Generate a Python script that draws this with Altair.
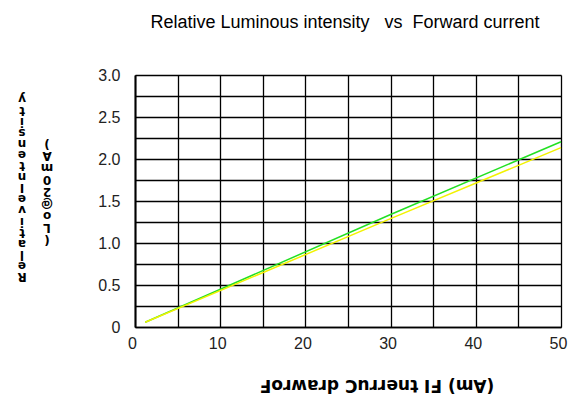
import altair as alt
import pandas as pd

# Data
current = [1.2, 30, 50]
green_vals = [0.056, 1.34, 2.206]
yellow_vals = [0.056, 1.29, 2.135]

x_grid = [0, 5, 10, 15, 20, 25, 30, 35, 40, 45, 50]
y_grid = [0, 0.25, 0.5, 0.75, 1.0, 1.25, 1.5, 1.75, 2.0, 2.25, 2.5, 2.75, 3.0]

NB = "\u00a0"
title_text = "Relative Luminous intensity" + NB * 3 + "vs" + NB * 2 + "Forward current"
x_title = "Forward Current IF (mA)"
y_title1 = "Relative Intensity"
y_title2 = "(Lo@20mA)"

df = pd.DataFrame({
    "current": current * 2,
    "value": green_vals + yellow_vals,
    "series": ["green"] * 3 + ["yellow"] * 3,
})

xs = alt.Scale(domain=[0, 50], nice=False, zero=False)
ys = alt.Scale(domain=[0, 3.0], nice=False, zero=False)

xaxis = alt.Axis(
    values=x_grid, grid=True, gridColor="black", gridWidth=1.3, gridOpacity=1,
    ticks=False, domain=True, domainColor="black", domainWidth=1.5,
    labelExpr="datum.value % 10 == 0 ? datum.label : ''",
    labelFont="Liberation Sans", labelFontSize=16, labelColor="#222",
    labelPadding=8, labelOffset=-3, title=None, labelFlush=False,
)
yaxis = alt.Axis(
    values=y_grid, grid=True, gridColor="black", gridWidth=1.3, gridOpacity=1,
    ticks=False, domain=True, domainColor="black", domainWidth=2,
    labelExpr="datum.value == 0 ? '0' : ((datum.value * 2) % 1 == 0 ? format(datum.value, '.1f') : '')",
    labelFont="Liberation Sans", labelFontSize=16, labelColor="#222",
    labelPadding=15, title=None, labelFlush=False,
)

lines = alt.Chart(df).mark_line(strokeWidth=1.5).encode(
    x=alt.X("current:Q", scale=xs, axis=xaxis),
    y=alt.Y("value:Q", scale=ys, axis=yaxis),
    color=alt.Color("series:N", scale=alt.Scale(domain=["yellow", "green"], range=["#f2f200", "#22e022"]), legend=None),
    order=alt.Order("series:N", sort="descending"),
    detail="series:N",
)

title_mark = alt.Chart(pd.DataFrame({"t": [title_text]})).mark_text(
    font="Liberation Sans", fontSize=18, color="black", align="center", baseline="alphabetic",
).encode(x=alt.value(210), y=alt.value(-47), text="t:N")

# Flipped axis label text (rotated 180 degrees, reversed, parentheses swapped)
x_src = x_title.replace("(", "\0").replace(")", "(").replace("\0", ")")[::-1].replace(" ", NB)
xlab = alt.Chart(pd.DataFrame({"t": [x_src]})).mark_text(
    angle=180, font="DejaVu Sans", fontWeight="bold", fontSize=17, color="black",
    align="center", baseline="middle",
).encode(x=alt.value(242), y=alt.value(310), text="t:N")

ylab1 = alt.Chart(pd.DataFrame({"a": [0]})).mark_text(
    text=list(y_title1), angle=180, font="DejaVu Sans", fontWeight="bold", fontSize=12, lineHeight=11.1,
    color="black", align="center", baseline="middle",
).encode(x=alt.value(-113), y=alt.value(202))

ylab2 = alt.Chart(pd.DataFrame({"a": [0]})).mark_text(
    text=list(y_title2), angle=180, font="DejaVu Sans", fontWeight="bold", fontSize=12, lineHeight=12,
    color="black", align="center", baseline="middle",
).encode(x=alt.value(-88), y=alt.value(165))

chart = alt.layer(lines, title_mark, xlab, ylab1, ylab2).properties(
    width=426, height=252,
    autosize=alt.AutoSizeParams(type="none"),
    padding={"left": 127, "top": 67, "right": 10, "bottom": 72},
).configure_view(stroke="black", strokeWidth=1.3).configure(background="white")

chart.save("out.html", embed_options={"renderer": "svg", "actions": False})
